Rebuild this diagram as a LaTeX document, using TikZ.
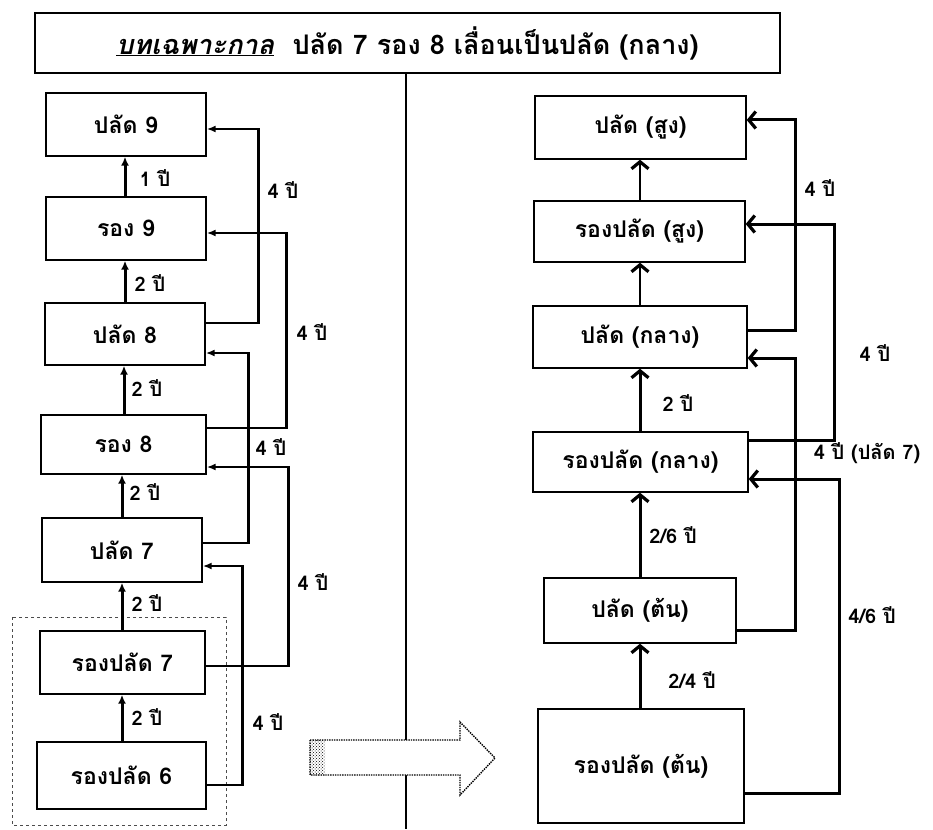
\documentclass[tikz,border=0pt]{standalone}
\usepackage{fontspec}
\setmainfont[Script=Thai]{Loma}
\usetikzlibrary{arrows.meta,patterns}
\begin{document}
\begin{tikzpicture}[x=1pt,y=-1pt,
  box/.style={draw,line width=1.4pt,inner sep=0pt,font=\fontsize{23}{26}\selectfont\bfseries},
  lab/.style={inner sep=0pt,font=\fontsize{20}{22}\selectfont\bfseries},
  up/.style={line width=3pt,-{Latex[length=9pt,width=8pt]}},
  conn/.style={line width=2.8pt,-{Latex[length=9pt,width=7pt]}},
  rup/.style={line width=3pt,-{Straight Barb[length=7pt,width=17pt,line width=3.2pt]}}]
\useasboundingbox (0,0) rectangle (933,829);
% title and middle line
\node[box,minimum width=745pt,minimum height=60pt,font=\fontsize{27}{30}\selectfont\bfseries] (title) at (407.5,43)
  {\underline{\textit{บทเฉพาะกาล}}\ \ ปลัด 7 รอง 8 เลื่อนเป็นปลัด (กลาง)};
\coordinate (vbot) at (406,829);
\draw[line width=2.8pt] (title.south -| vbot) -- (vbot);
% left column
\node[box,minimum width=160pt,minimum height=63pt] (p9) at (126,124.5) {ปลัด 9};
\node[box,minimum width=160pt,minimum height=63pt] (r9) at (126,228.5) {รอง 9};
\node[box,minimum width=160pt,minimum height=62pt] (p8) at (125,334) {ปลัด 8};
\node[box,minimum width=165pt,minimum height=59pt] (r8) at (123.5,444.5) {รอง 8};
\node[box,minimum width=160pt,minimum height=64pt] (p7) at (122,550) {ปลัด 7};
\node[box,minimum width=165pt,minimum height=63pt] (rp7) at (122.5,662.5) {รองปลัด 7};
\node[box,minimum width=169pt,minimum height=67pt] (rp6) at (121.5,775.5) {รองปลัด 6};
\draw[dashed,line width=1pt,black!70] (12,617) rectangle (226,825);
\draw[up] (r9.north -| 125,0) -- (p9.south -| 125,0);
\draw[up] (p8.north -| 125,0) -- (r9.south -| 125,0);
\draw[up] (r8.north -| 124,0) -- (p8.south -| 124,0);
\draw[up] (p7.north -| 122,0) -- (r8.south -| 122,0);
\draw[up] (rp7.north -| 122,0) -- (p7.south -| 122,0);
\draw[up] (rp6.north -| 122,0) -- (rp7.south -| 122,0);
\node[lab] (t1) at (155,178) {1 ปี};
\node[lab] (t2) at (150,283) {2 ปี};
\node[lab] (t3) at (147,388) {2 ปี};
\node[lab] (t4) at (145,492) {2 ปี};
\node[lab] (t5) at (147,603) {2 ปี};
\node[lab] (t6) at (147,717) {2 ปี};
\draw[conn] ([yshift=11pt]p8.east) -- ++(53,0) |- ([yshift=-4.5pt]p9.east);
\draw[conn] ([yshift=16.5pt]r8.east) -- ++(80,0) |- ([yshift=-4.5pt]r9.east);
\draw[conn] ([yshift=7pt]p7.east) -- ++(46,0) |- ([yshift=-19pt]p8.east);
\draw[conn] ([yshift=-3.5pt]rp7.east) -- ++(83,0) |- ([yshift=-22.5pt]r8.east);
\draw[conn] ([yshift=-9.5pt]rp6.east) -- ++(36,0) |- ([yshift=-16pt]p7.east);
\node[lab] (f1) at (283,190) {4 ปี};
\node[lab] (f2) at (312,332) {4 ปี};
\node[lab] (f3) at (271,447) {4 ปี};
\node[lab] (f4) at (313,582) {4 ปี};
\node[lab] (f5) at (268,722) {4 ปี};
% big arrow
\draw[line width=1.4pt,fill=white,densely dotted] (310,740) -- (460,740) -- (460,722)
  -- (495,758) -- (460,795) -- (460,775) -- (310,775) -- cycle;
\fill[pattern=crosshatch dots] (310,740) rectangle (325,775);
% right column
\node[box,minimum width=211pt,minimum height=63pt] (ps) at (640.5,127.5) {ปลัด (สูง)};
\node[box,minimum width=211pt,minimum height=61pt] (rps) at (639.5,231.5) {รองปลัด (สูง)};
\node[box,minimum width=214pt,minimum height=62pt] (pk) at (640,337) {ปลัด (กลาง)};
\node[box,minimum width=215pt,minimum height=60pt] (rpk) at (640.5,462) {รองปลัด (กลาง)};
\node[box,minimum width=192pt,minimum height=65pt] (pt) at (640,610.5) {ปลัด (ต้น)};
\node[box,minimum width=206pt,minimum height=114pt] (rpt) at (641,766) {รองปลัด (ต้น)};
\draw[rup,line width=2.2pt] (rps.north -| 640,0) -- (ps.south -| 640,0);
\draw[rup,line width=2.2pt] (pk.north -| 640,0) -- (rps.south -| 640,0);
\draw[rup] (rpk.north -| 640,0) -- (pk.south -| 640,0);
\draw[rup] (pt.north -| 640,0) -- (rpk.south -| 640,0);
\draw[rup] (rpt.north -| 640,0) -- (pt.south -| 640,0);
\node[lab] (s1) at (678,403) {2 ปี};
\node[lab] (s2) at (673,535) {2/6 ปี};
\node[lab] (s3) at (692,680) {2/4 ปี};
\draw[rup] ([yshift=7pt]pk.east) -- ++(48,0) |- ([yshift=7.5pt]ps.east);
\draw[rup] ([yshift=22pt]rpk.east) -- ++(85.5,0) |- ([yshift=7.5pt]rps.east);
\draw[rup] ([yshift=-19.5pt]pt.east) -- ++(59,0) |- ([yshift=-21pt]pk.east);
\draw[rup] ([yshift=-27pt]rpt.east) -- ++(95,0) |- ([yshift=-17pt]rpk.east);
\node[lab] (g1) at (820,188) {4 ปี};
\node[lab] (g2) at (875,353) {4 ปี};
\node[lab] (g3) at (867,453) {4 ปี (ปลัด 7)};
\node[lab] (g4) at (872,615) {4/6 ปี};
\end{tikzpicture}
\end{document}
